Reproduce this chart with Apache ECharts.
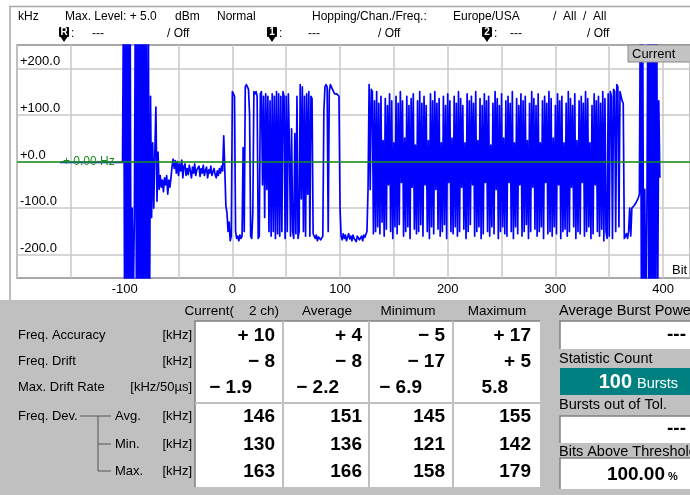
<!DOCTYPE html>
<html>
<head>
<meta charset="utf-8">
<script src="https://cdn.jsdelivr.net/npm/echarts@6/dist/echarts.min.js"></script>
<style>
html, body { margin: 0; padding: 0; background: #fff; }
#chart { width: 690px; height: 495px; }
</style>
</head>
<body>
<div id="chart"></div>
<script>
// axis ticks
const bitLabels = [-100, 0, 100, 200, 300, 400]
const kHzTicks = [-200, -100, 0, 100, 200]

// frequency deviation trace (kHz), one value per bit
const idleStart = -160
const idle = [-2, -2, -2, -2, -2, -2, -2, -2, -2, -2, -2, -2, -2, -2, -2, -2, -2, -2, -2, -2,
  -2, -2, -2, -2, -2, -2, -2, -2, -2, -2, -2, -2, -2, -2, -2, -2, -2, -2, -2, -2,
  -2, -2, -2, -2, -2, -2, -2, -2, -2, -2, -2, -2, -2, -2, -2, -2, -2, -2, -2]

const rampStart = -101
const ramp = [400, -400, 400, -400, 400, -400, 400, -400,
  -100, -300, -120,
  400, -400, 400, -400, 400, -400, 400, -400, 400, -400, 400, -400, 300, -400,
  140, -120, 40, -100, 20, 117, -85, 20, -60,
  -30, -55, -40, -65, -35, -50, -30, -70, -40, -55, -35,
  -10, 5, -15, 2, -25, 0, -30, -5, -20, 3,
  -35, -10, -5, -30, -15, -28, -8, -20, -35, -12,
  -25, -5, -30, -18, -22, -10, -32, -15, -25, -8,
  -30, -20, -12, -35, -18, -25, -10, -30, -22, -15,
  -28, -35, -20, -30, -15, -25, -10, -20,
  55, -20, -95, -110, -150, -130, -170, -160]

const headerStart = 0
const header = [150, 145, 140, -150, -165, -160, -170, -158, -165, -160,
  30, -150, 160, 165, 160, 155, 100, -160, -165, -110,
  150, 145, 150, 140, -165, -160, 145, 150, -50, 140,
  -120, 145, -60, 140, -150, 130, -160, 145, -150, 140,
  -165, 150, -155, 145, -160, 140, -150, 150, 140, -165,
  140, -150, 145, 30, -160, 70, -150, -165, 60, -155,
  140, -165, -150, 165, -80, 160, -150, 140, -160, 145,
  -70, 150, -160, 140, 135, -155, -160, -165, -158, -170,
  -162, -160, -168, -172, -160, 110, 160, 165, 160, -150,
  150, 165, 160, 155, 150, 145, 148, 145, 148, 140,
  -100]

const gapStart = 101
const gap = [-160, -168, -155, -165, -158, -170, -162, -155, -166, -160,
  -170, -158, -165, -162, -172, -160, -156, -168, -165, -160,
  -170, -158, -163, -160, -150,
  -60, 165, -60, 155, 150, -155, 130, -150]

const payloadStart = 134
const payload = [150, -140, 125, -155, 140, -130, 45, -160, 135, -145,
  120, -50, 145, -150, 130, -165, 40, -140, 140, -155,
  125, -135, 150, -45, 130, -160, 50, -150, 140, -140,
  120, -165, 135, -55, 145, -145, 35, -155, 130, -150,
  150, -135, 125, -160, 140, -50, 120, -150, 45, -165,
  145, -140, 130, -155, 150, -60, 125, -145, 135, -160,
  40, -150, 140, -135, 120, -165, 145, -45, 130, -150,
  50, -155, 140, -140, 125, -160, 150, -150, 135, -55,
  120, -145, 40, -165, 145, -150, 130, -135, 140, -50,
  125, -160, 150, -150, 45, -140, 135, -165, 120, -155,
  145, -45, 130, -150, 140, -160, 35, -140, 125, -155,
  150, -60, 135, -165, 120, -150, 145, -140, 50, -155,
  130, -160, 140, -45, 125, -150, 150, -165, 40, -140,
  135, -155, 120, -50, 145, -160, 130, -150, 140, -135,
  45, -165, 125, -150, 150, -55, 135, -145, 120, -160,
  145, -150, 40, -140, 130, -165, 140, -45, 125, -155,
  150, -150, 135, -160, 50, -140, 120, -155, 145, -50,
  130, -165, 140, -150, 40, -145, 125, -160, 150, -150,
  135, -55, 120, -140, 145, -165, 45, -150, 130, -155,
  140, -45, 125, -160, 150, -150, 135, -140, 40, -165,
  120, -155, 145, -50, 130, -150, 140, -160, 125, -145,
  150, -170, 135, -150]

const tailStart = 348
const tail = [-165, 145, -160, 150, 140, -165, 155, 150, -150, 165,
  160, -140, 150, 150, 130, 125, -165, -160, -155, -165,
  -150, -100, -160, -100, -98, -95, -92, -88, -85, -78,
  -70, 400, -400, 400, -400, -60, -400, -100, 400, -400,
  400, -400, 400, -400, 400, -400, 400, -300, 130, -35]

// result table
const colHeads = ['Current(    2 ch)', 'Average', 'Minimum', 'Maximum']
const rowNames = ['Freq. Accuracy', 'Freq. Drift', 'Max. Drift Rate', 'Avg.', 'Min.', 'Max.']
const rowUnits = ['[kHz]', '[kHz]', '[kHz/50µs]', '[kHz]', '[kHz]', '[kHz]']
const currentVals = ['+ 10', '− 8', '− 1.9', '146', '130', '163']
const averageVals = ['+ 4', '− 8', '− 2.2', '151', '136', '166']
const minimumVals = ['− 5', '− 17', '− 6.9', '145', '121', '158']
const maximumVals = ['+ 17', '+ 5', '5.8', '155', '142', '179']

const segments = [
  [idleStart, idle], [rampStart, ramp], [headerStart, header],
  [gapStart, gap], [payloadStart, payload], [tailStart, tail]
]
const trace = []
segments.forEach(([start, vals]) => {
  vals.forEach((v, i) => trace.push([start + i, v]))
})

const FONT = '"Liberation Sans", Arial, sans-serif'
const GRAY = '#c0c0c0'

function txt (x, y, text, opt = {}) {
  const align = opt.align || 'left'
  return {
    type: 'text',
    x: x,
    y: y,
    z: opt.z || 10,
    style: {
      text: text,
      fill: opt.color || '#000',
      font: (opt.weight || 'normal') + ' ' + (opt.size || 12) + 'px ' + FONT,
      textAlign: align,
      align: align,
      textVerticalAlign: 'middle',
      verticalAlign: 'middle'
    }
  }
}

function marker (x, label) {
  return [
    { type: 'rect', shape: { x: x, y: 27, width: 10, height: 10, r: 1 }, style: { fill: '#000' } },
    { type: 'polygon', shape: { points: [[x + 1, 36], [x + 9, 36], [x + 5, 42]] }, style: { fill: '#000' } },
    txt(x + 5, 32.5, label, { color: '#fff', size: 10, weight: 'bold', align: 'center' })
  ]
}

// white box with a sunken edge
function box (x, y, w, h, fill) {
  return [
    { type: 'rect', shape: { x: x, y: y, width: w, height: h }, style: { fill: fill || '#fff' } },
    { type: 'polyline', shape: { points: [[x, y + h], [x, y], [x + w, y]] }, style: { stroke: '#808080', lineWidth: 1.5, fill: null } }
  ]
}

let graphic = []

// outer frame of the trace window
graphic.push({ type: 'polyline', shape: { points: [[10, 300], [10, 6.5], [700, 6.5]] }, style: { stroke: '#a8a8a8', lineWidth: 1.5, fill: null } })

// header lines
graphic.push(
  txt(18, 17, 'kHz'),
  txt(65, 17, 'Max. Level: + 5.0'),
  txt(175, 17, 'dBm'),
  txt(217, 17, 'Normal'),
  txt(312, 17, 'Hopping/Chan./Freq.:'),
  txt(453, 17, 'Europe/USA'),
  txt(553, 17, '/  All  /  All'),
  txt(71, 34, ':'), txt(92, 34, '---'), txt(167, 34, '/ Off'),
  txt(279, 34, ':'), txt(308, 34, '---'), txt(378, 34, '/ Off'),
  txt(494, 34, ':'), txt(510, 34, '---'), txt(587, 34, '/ Off')
)
graphic = graphic.concat(marker(59, 'R'), marker(267, '1'), marker(482, '2'))

// labels inside the trace
graphic.push(
  txt(63, 162, '+ 0.00 Hz', { color: '#1a8f1a', z: 100 }),
  txt(672, 270, 'Bit', { z: 100, size: 13 }),
  { type: 'rect', z: 100, shape: { x: 628, y: 45, width: 64, height: 17 }, style: { fill: '#c4c4c4', stroke: '#8a8a8a', lineWidth: 1 } },
  txt(632, 54, 'Current', { z: 101, size: 13 })
)

// bottom panel
const LBL = 13.5
graphic.push({ type: 'rect', shape: { x: 0, y: 300, width: 690, height: 195 }, style: { fill: GRAY } })
graphic = graphic.concat(box(195, 321, 345, 166))
graphic.push(
  { type: 'rect', shape: { x: 282, y: 321, width: 2, height: 166 }, style: { fill: GRAY } },
  { type: 'rect', shape: { x: 368, y: 321, width: 2, height: 166 }, style: { fill: GRAY } },
  { type: 'rect', shape: { x: 452, y: 321, width: 2, height: 166 }, style: { fill: GRAY } },
  { type: 'rect', shape: { x: 195, y: 402, width: 345, height: 2 }, style: { fill: GRAY } }
)

graphic.push(
  txt(279, 311, colHeads[0], { align: 'right', size: LBL }),
  txt(327, 311, colHeads[1], { align: 'center', size: LBL }),
  txt(408, 311, colHeads[2], { align: 'center', size: LBL }),
  txt(497, 311, colHeads[3], { align: 'center', size: LBL })
)

const rowY = [335, 361, 387, 416, 444, 471]
const colRight = [275, 362, 445, 531]
const columns = [currentVals, averageVals, minimumVals, maximumVals]

rowNames.forEach((name, i) => {
  graphic.push(txt(i < 3 ? 18 : 115, rowY[i], name, { size: 13 }))
  graphic.push(txt(192, rowY[i], rowUnits[i], { align: 'right', size: 13 }))
  columns.forEach((vals, c) => {
    const right = i === 2 ? colRight[c] - 23 : colRight[c]
    graphic.push(txt(right, rowY[i] + 1, vals[i], { align: 'right', size: 19, weight: 'bold' }))
  })
})

// Freq. Dev. bracket
graphic.push(
  txt(18, rowY[3], 'Freq. Dev.', { size: 13 }),
  { type: 'polyline', shape: { points: [[80, rowY[3]], [111, rowY[3]]] }, style: { stroke: '#555', lineWidth: 1, fill: null } },
  { type: 'polyline', shape: { points: [[98, rowY[3]], [98, rowY[5]], [111, rowY[5]]] }, style: { stroke: '#555', lineWidth: 1, fill: null } },
  { type: 'polyline', shape: { points: [[98, rowY[4]], [111, rowY[4]]] }, style: { stroke: '#555', lineWidth: 1, fill: null } }
)

// right hand readouts
graphic.push(txt(559, 311, 'Average Burst Power', { size: 14.5 }))
graphic = graphic.concat(box(560, 321, 135, 28))
graphic.push(txt(686, 335, '---', { align: 'right', size: 19, weight: 'bold' }))
graphic.push(txt(559, 359, 'Statistic Count', { size: 14.5 }))
graphic.push({ type: 'rect', shape: { x: 560, y: 368, width: 135, height: 27 }, style: { fill: '#008080' } })
graphic.push(txt(632, 382, '100', { align: 'right', size: 20, weight: 'bold', color: '#fff' }))
graphic.push(txt(637, 384, 'Bursts', { color: '#fff', size: 14.5 }))
graphic.push(txt(559, 405, 'Bursts out of Tol.', { size: 14.5 }))
graphic = graphic.concat(box(560, 416, 135, 27))
graphic.push(txt(686, 429, '---', { align: 'right', size: 19, weight: 'bold' }))
graphic.push(txt(559, 452, 'Bits Above Threshold', { size: 14.5 }))
graphic = graphic.concat(box(560, 458, 135, 31))
graphic.push(txt(665, 475, '100.00', { align: 'right', size: 19, weight: 'bold' }))
graphic.push(txt(668, 477, '%', { size: 11, weight: 'bold' }))

const myChart = echarts.init(document.getElementById('chart'))

const option = {
  animation: false,
  textStyle: { fontFamily: FONT },
  grid: {
    left: 17,
    top: 45,
    width: 674,
    height: 233,
    show: true,
    backgroundColor: '#fff',
    borderColor: '#8c8c8c',
    borderWidth: 1.5
  },
  xAxis: {
    type: 'value',
    min: -200,
    max: 425,
    interval: 50,
    axisLine: { show: false },
    axisTick: { show: false },
    axisLabel: {
      customValues: bitLabels,
      formatter: v => (bitLabels.indexOf(v) >= 0 ? String(v) : ''),
      color: '#000',
      fontSize: 13,
      margin: 5
    },
    splitLine: { show: true, lineStyle: { color: '#c8c8c8', width: 1.5 } }
  },
  yAxis: {
    type: 'value',
    min: -250,
    max: 250,
    interval: 50,
    axisLine: { show: false },
    axisTick: { show: false },
    axisLabel: {
      customValues: kHzTicks,
      inside: true,
      margin: 3,
      verticalAlign: 'bottom',
      color: '#000',
      fontSize: 13,
      formatter: v => (kHzTicks.indexOf(v) < 0 ? '' : (v >= 0 ? '+' : '') + v.toFixed(1))
    },
    // only every second 50 kHz line is drawn (the 100 kHz grid)
    splitLine: { show: true, lineStyle: { color: ['rgba(0,0,0,0)', '#c8c8c8'], width: 1.5 } }
  },
  graphic: graphic,
  series: [
    {
      name: 'Freq. Deviation',
      type: 'line',
      data: trace,
      showSymbol: false,
      symbol: 'none',
      clip: true,
      silent: true,
      lineStyle: { color: '#0000ff', width: 1.7, join: 'round' },
      markLine: {
        silent: true,
        symbol: ['none', 'none'],
        label: { show: false },
        lineStyle: { color: '#1a8f1a', width: 1.5, type: 'solid' },
        data: [{ yAxis: 0 }]
      }
    }
  ]
}

myChart.setOption(option)
</script>
</body>
</html>
